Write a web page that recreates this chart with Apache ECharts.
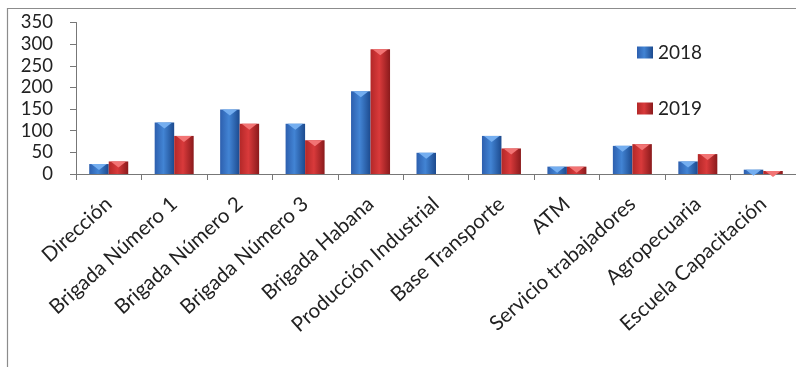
<!DOCTYPE html>
<html>
<head>
<meta charset="utf-8">
<script src="https://cdn.jsdelivr.net/npm/echarts@6/dist/echarts.min.js"></script>
<style>
  html, body { margin: 0; padding: 0; background: #fff; }
  #chart { width: 796px; height: 367px; }
</style>
</head>
<body>
<div id="chart"></div>
<script>
// Personnel by unit, 2018 vs 2019
const categories = [
  'Dirección', 'Brigada Número 1', 'Brigada Número 2', 'Brigada Número 3',
  'Brigada Habana', 'Producción Industrial', 'Base Transporte', 'ATM',
  'Servicio trabajadores', 'Agropecuaria', 'Escuela Capacitación'
];
const values2018 = [23, 119, 149, 116, 191, 49, 88, 17, 65, 29, 10];
const values2019 = [29, 88, 116, 78, 288, '-', 59, 17, 69, 46, 7];
const yTicks = [0, 50, 100, 150, 200, 250, 300, 350];

const barW = 19.5;

function shade(edge, mid, dark) {
  return new echarts.graphic.LinearGradient(0, 0, 1, 0, [
    { offset: 0, color: edge },
    { offset: 0.45, color: mid },
    { offset: 1, color: dark }
  ]);
}

const chart = echarts.init(document.getElementById('chart'), null, { renderer: 'canvas' });

// bevel highlight drawn on top of each bar
const capPath = 'path://M0,0 L10,0 L5,6 Z';

chart.setOption({
  animation: false,
  backgroundColor: '#ffffff',
  graphic: [{
    type: 'rect',
    left: 5, top: 6,
    shape: { width: 900, height: 500 },
    style: { fill: 'none', stroke: '#8c8c8c', lineWidth: 1.2 },
    z: -1
  }],
  grid: { left: 76, top: 22.5, width: 723, height: 151.5, containLabel: false },
  legend: {
    data: ['2018', '2019'],
    orient: 'vertical',
    left: 632, top: 38,
    itemWidth: 16, itemHeight: 12, itemGap: 37,
    icon: 'rect',
    textStyle: { fontFamily: 'Lato', fontSize: 19, color: '#222', lineHeight: 18 }
  },
  xAxis: {
    type: 'category',
    data: categories,
    axisLine: { lineStyle: { color: '#777', width: 1 } },
    axisTick: { show: true, length: 6, lineStyle: { color: '#777' } },
    axisLabel: {
      interval: 0, rotate: 42, margin: 27,
      fontFamily: 'Lato', fontSize: 20.5, color: '#222'
    }
  },
  yAxis: {
    type: 'value',
    min: yTicks[0], max: yTicks[yTicks.length - 1], interval: 50,
    splitLine: { show: false },
    axisLine: { show: true, lineStyle: { color: '#777', width: 1 } },
    axisTick: { show: true, length: 6, lineStyle: { color: '#777' } },
    axisLabel: { margin: 23, fontFamily: 'Lato', fontSize: 18.5, color: '#222' }
  },
  series: [
    {
      name: '2018', type: 'bar', data: values2018,
      barWidth: barW, barGap: '0%',
      itemStyle: { color: shade('#2d5fae', '#4284d4', '#1c4a8e') }
    },
    {
      name: '2019', type: 'bar', data: values2019,
      barWidth: barW, barGap: '0%',
      itemStyle: { color: shade('#b32828', '#d93a3b', '#8a1a1c') }
    },
    {
      name: '2018', type: 'pictorialBar', data: values2018,
      barWidth: barW, barGap: '0%',
      symbol: capPath, symbolPosition: 'end', symbolSize: [barW - 4, 6],
      itemStyle: { color: '#74aef0' }, z: 3, silent: true
    },
    {
      name: '2019', type: 'pictorialBar', data: values2019,
      barWidth: barW, barGap: '0%',
      symbol: capPath, symbolPosition: 'end', symbolSize: [barW - 4, 6],
      itemStyle: { color: '#f27474' }, z: 3, silent: true
    }
  ]
});
</script>
</body>
</html>
